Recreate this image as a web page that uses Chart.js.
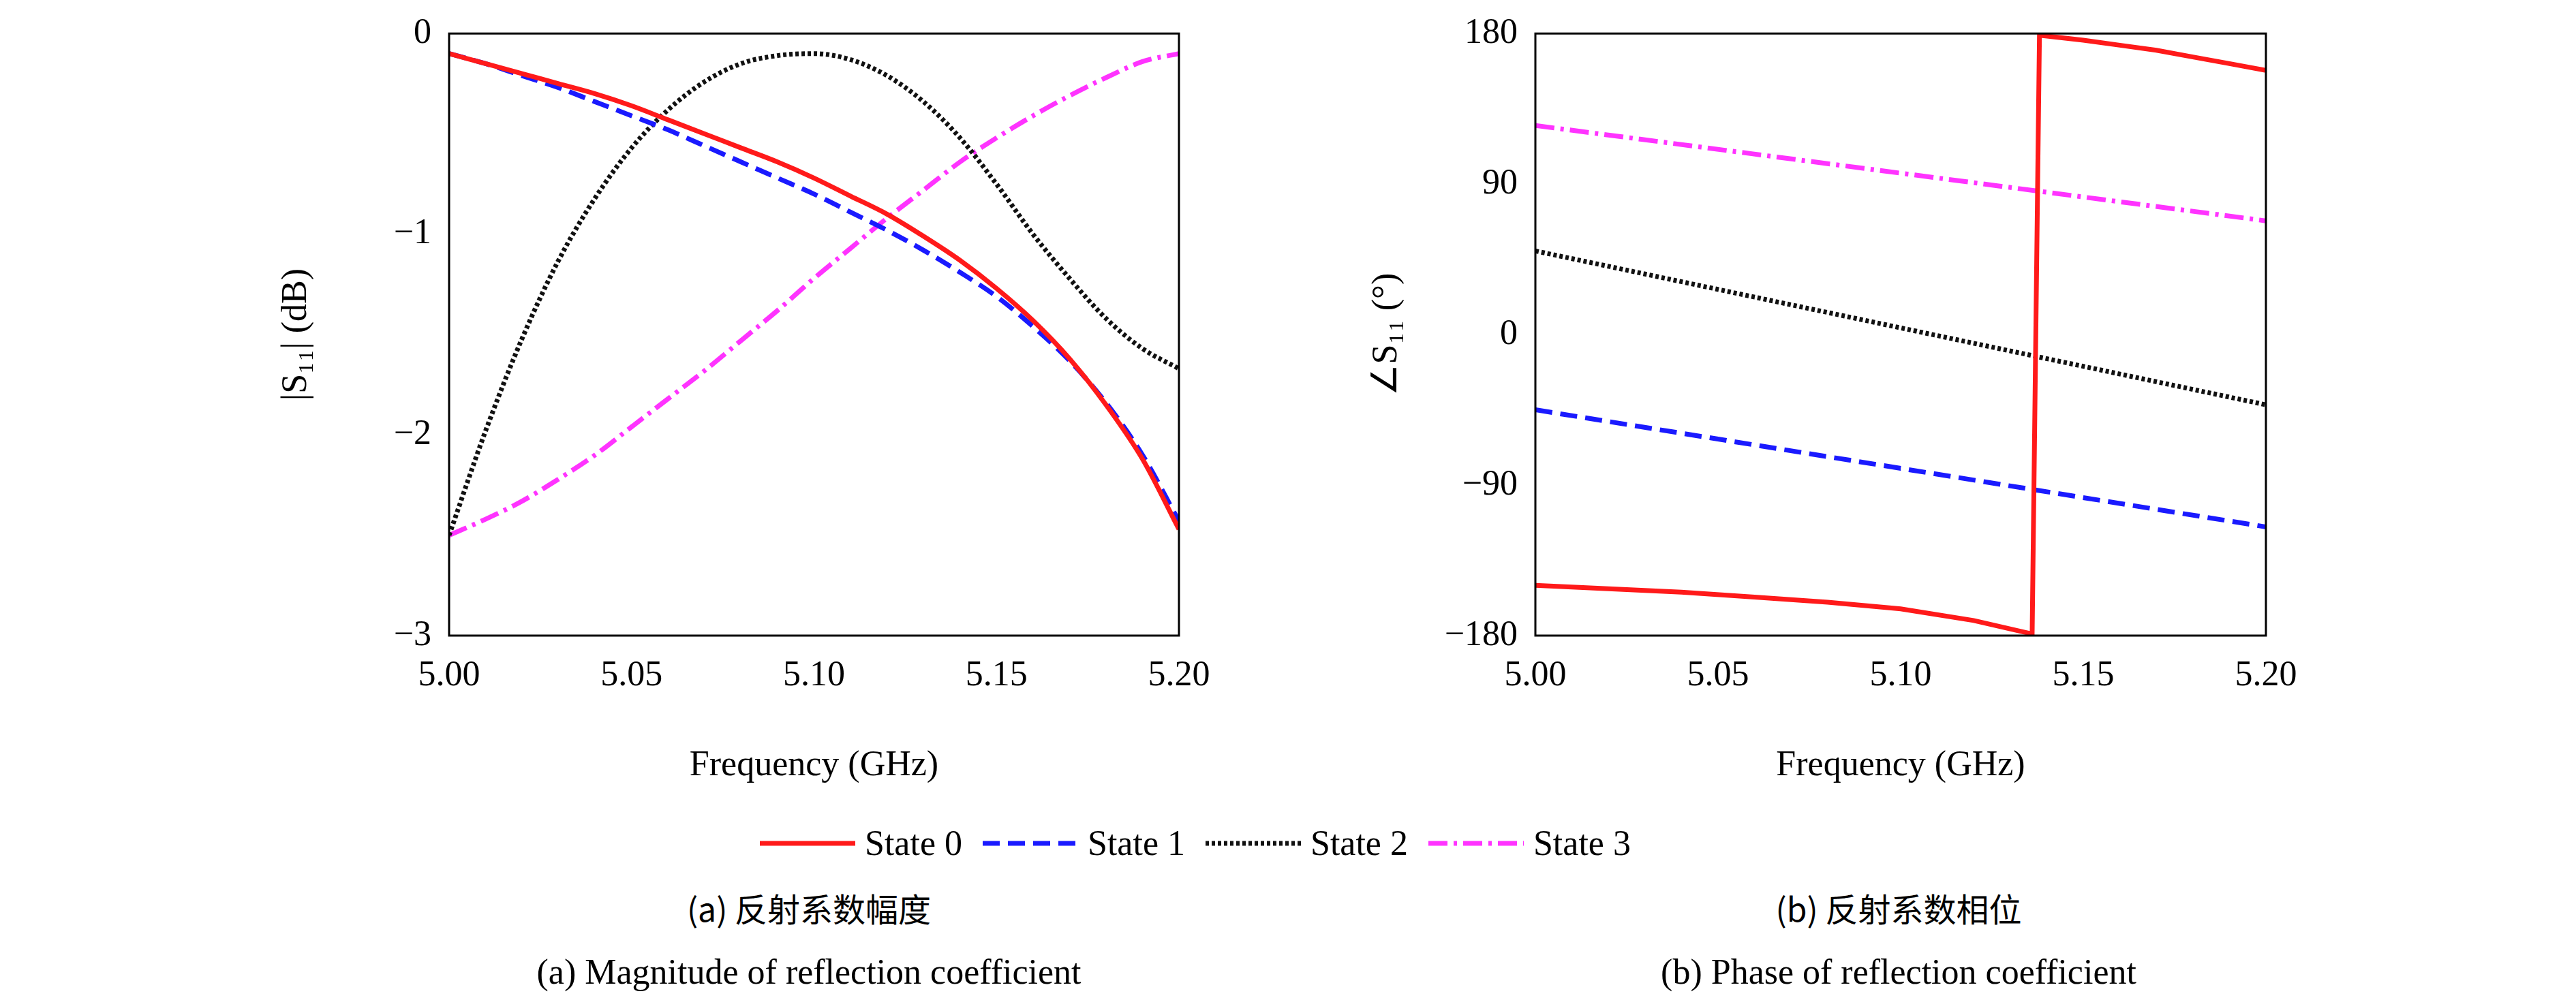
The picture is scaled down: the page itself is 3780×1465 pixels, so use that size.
<!DOCTYPE html>
<html><head><meta charset="utf-8">
<script src="https://cdn.jsdelivr.net/npm/chart.js@4"></script>
<style>
body{margin:0;background:#fff;width:3780px;height:1465px;position:relative;overflow:hidden;font-family:"Liberation Serif",serif;}
canvas{position:absolute;top:0}
#legend{position:absolute;top:1208px;left:1115px;font-size:52px;display:flex;align-items:center;gap:0}
#legend span{display:flex;align-items:center;margin-right:30px}
#legend svg{margin-right:14px}
.cap{position:absolute;font-size:52px;text-align:center;line-height:1.75;transform:translateX(-50%);white-space:nowrap}
.cap .zh{font-family:"Noto Sans CJK SC","Liberation Serif",serif;font-size:48px}
</style></head><body>
<div style="position:absolute;left:0;top:0;width:1890px;height:1200px"><canvas id="mag"></canvas></div>
<div style="position:absolute;left:1890px;top:0;width:1890px;height:1200px"><canvas id="pha"></canvas></div>
<div id="legend">
<span><svg width="140" height="20"><line x1="0" y1="10" x2="140" y2="10" stroke="#ff1a1a" stroke-width="7"/></svg>State 0</span>
<span><svg width="140" height="20"><line x1="0" y1="10" x2="140" y2="10" stroke="#1a1aff" stroke-width="7" stroke-dasharray="25 12"/></svg>State 1</span>
<span><svg width="140" height="20"><line x1="0" y1="10" x2="140" y2="10" stroke="#111" stroke-width="7" stroke-dasharray="5 4"/></svg>State 2</span>
<span><svg width="140" height="20"><line x1="0" y1="10" x2="140" y2="10" stroke="#ff33ff" stroke-width="7" stroke-dasharray="28 9 5 9"/></svg>State 3</span>
</div>
<div class="cap" style="left:1187px;top:1290px"><span class="zh">(a) 反射系数幅度</span><br>(a) Magnitude of reflection coefficient</div>
<div class="cap" style="left:2786px;top:1290px"><span class="zh">(b) 反射系数相位</span><br>(b) Phase of reflection coefficient</div>
<script>
const freq = [5.00,5.01,5.02,5.03,5.04,5.05,5.06,5.07,5.08,5.09,5.10,5.11,5.12,5.13,5.14,5.15,5.16,5.17,5.18,5.19,5.20];
const mag0 = [-0.10,-0.15,-0.20,-0.25,-0.30,-0.36,-0.43,-0.50,-0.57,-0.64,-0.72,-0.81,-0.90,-1.01,-1.13,-1.27,-1.43,-1.62,-1.85,-2.12,-2.47];
const mag1 = [-0.10,-0.15,-0.21,-0.27,-0.34,-0.41,-0.48,-0.56,-0.64,-0.72,-0.80,-0.89,-0.98,-1.08,-1.19,-1.31,-1.46,-1.63,-1.84,-2.10,-2.43];
const mag2 = [-2.50,-1.98,-1.52,-1.13,-0.82,-0.57,-0.38,-0.24,-0.15,-0.11,-0.10,-0.13,-0.21,-0.34,-0.52,-0.75,-1.00,-1.22,-1.42,-1.57,-1.67];
const mag3 = [-2.50,-2.42,-2.33,-2.22,-2.10,-1.96,-1.82,-1.68,-1.53,-1.38,-1.22,-1.07,-0.92,-0.78,-0.64,-0.52,-0.41,-0.31,-0.22,-0.14,-0.10];
const phFreq0 = [5.00,5.02,5.04,5.06,5.08,5.10,5.12,5.136,5.138,5.15,5.16,5.17,5.18,5.19,5.20];
const phase0 = [-150,-152,-154,-157,-160,-164,-171,-179,179,176,173,170,166,162,158];
const phFreqLin = [5.00,5.20];
const phase1 = [-45,-115];
const phase2 = [50,-42];
const phase3 = [125,68];
const magTicks = [0,-1,-2,-3];
const phaseTicks = [-180,-90,0,90,180];
const freqTicks = [5.00,5.05,5.10,5.15,5.20];

const font = {family:'"Liberation Serif", serif', size:52};
const styles = [
  {borderColor:'#ff1a1a', borderDash:[]},
  {borderColor:'#1a1aff', borderDash:[25,12]},
  {borderColor:'#111111', borderDash:[5,4]},
  {borderColor:'#ff33ff', borderDash:[28,9,5,9]}
];
const pts = (xs, ys) => xs.map((x,i)=>({x, y: ys[i]}));
const mkSets = series => series.map((s,i)=>({data:s, borderWidth:7, pointRadius:0, cubicInterpolationMode:'monotone', fill:false, ...styles[i]}));
const frame = {id:'frame', afterDraw(c){const a=c.chartArea,g=c.ctx;g.save();g.strokeStyle='#000';g.lineWidth=3;g.strokeRect(a.left,a.top,a.right-a.left,a.bottom-a.top);g.restore();}};
const minus = v => String(v).replace('-','−');

function makeChart(id, sets, yMin, yMax, yTicks, yTitle, padL, yW, padR){
  new Chart(document.getElementById(id), {
    type:'line',
    data:{datasets:sets},
    plugins:[frame],
    options:{
      responsive:true, maintainAspectRatio:false, animation:false,
      layout:{padding:{left:padL, right:padR, top:36, bottom:40}},
      plugins:{legend:{display:false}, tooltip:{enabled:false}},
      scales:{
        x:{type:'linear', min:5.0, max:5.2,
          afterBuildTicks: ax => { ax.ticks = freqTicks.map(v=>({value:v})); },
          afterFit: ax => { ax.height = 227; },
          grid:{display:false}, border:{display:false},
          ticks:{font, color:'#000', padding:20, callback:v=>v.toFixed(2)},
          title:{display:true, text:'Frequency (GHz)', font, color:'#000'}},
        y:{min:yMin, max:yMax,
          afterBuildTicks: ax => { ax.ticks = yTicks.map(v=>({value:v})); },
          afterFit: ax => { ax.width = yW; },
          grid:{display:false}, border:{display:false},
          ticks:{font, color:'#000', padding:18, callback:minus},
          title:{display:true, text:yTitle, font, color:'#000'}}
      }
    }
  });
}

makeChart('mag', mkSets([pts(freq,mag0),pts(freq,mag1),pts(freq,mag2),pts(freq,mag3)]),
  -3, 0, magTicks, '|S₁₁| (dB)', 400, 259, 160);
const phSets = mkSets([pts(phFreq0,phase0),pts(phFreqLin,phase1),pts(phFreqLin,phase2),pts(phFreqLin,phase3)]);
phSets[0].cubicInterpolationMode = 'default';
phSets[0].tension = 0;
makeChart('pha', phSets, -180, 180, phaseTicks, '∠S₁₁ (°)', 110, 253, 455);
</script>
</body></html>
